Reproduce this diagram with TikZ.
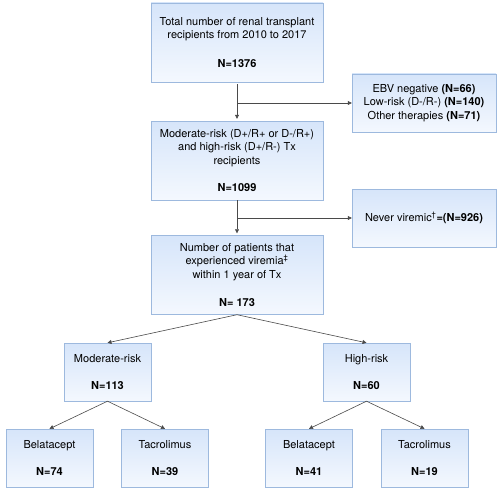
\documentclass[tikz,border=0pt]{standalone}
\usepackage{fontspec}
\setmainfont{TeX Gyre Heros}
\usetikzlibrary{arrows.meta}
\definecolor{boxtop}{HTML}{D6E5FA}
\definecolor{boxbot}{HTML}{F4F8FE}
\definecolor{boxline}{HTML}{9DB9DE}
\definecolor{arrline}{HTML}{4A4A4A}
\tikzset{
  box/.style={rectangle, draw=boxline, top color=boxtop, bottom color=boxbot,
    align=center, font=\fontsize{11}{13.5}\selectfont, inner sep=2pt},
  bigbox/.style={box, minimum width=172pt, minimum height=79pt},
  sidebox/.style={box, minimum width=144pt, minimum height=58pt},
  smallbox/.style={box, minimum width=87pt, minimum height=58pt},
  arr/.style={draw=arrline, line width=0.6pt, -{Triangle[length=4pt,width=4pt]}}
}
\begin{document}
\begin{tikzpicture}[x=1pt, y=-1pt]
    \useasboundingbox (0,0) rectangle (500,492);
    \node[bigbox] (total) at (237, 42.5) {Total number of renal transplant\\recipients from 2010 to 2017\\[15pt]\textbf{N=1376}};
    \node[sidebox] (excl) at (424, 103) {EBV negative \textbf{(N=66)}\\Low-risk (D-/R-) \textbf{(N=140)}\\Other therapies \textbf{(N=71)}};
    \node[bigbox] (risk) at (237, 160.5) {Moderate-risk (D+/R+ or D-/R+)\\and high-risk (D+/R-) Tx\\recipients\\[14pt]\textbf{N=1099}};
    \node[sidebox] (never) at (424, 218) {Never viremic\textsuperscript{\dag}\textbf{=(N=926)}};
    \node[bigbox] (viremia) at (237, 275) {Number of patients that\\experienced viremia\textsuperscript{\ddag}\\within 1 year of Tx\\[15pt]\textbf{N= 173}};
    \node[smallbox] (mod) at (107.5, 372) {Moderate-risk\\[14pt]\textbf{N=113}};
    \node[smallbox] (high) at (366.5, 372) {High-risk\\[14pt]\textbf{N=60}};
    \node[smallbox] (bel1) at (49.5, 458) {Belatacept\\[14pt]\textbf{N=74}};
    \node[smallbox] (tac1) at (165, 458) {Tacrolimus\\[14pt]\textbf{N=39}};
    \node[smallbox] (bel2) at (309, 458) {Belatacept\\[14pt]\textbf{N=41}};
    \node[smallbox] (tac2) at (424.5, 458) {Tacrolimus\\[14pt]\textbf{N=19}};
    \coordinate (j1) at (total.south |- excl.west);
    \coordinate (j2) at (risk.south |- never.west);
    \draw[arr] ([yshift=-2pt]total.south) -- ([yshift=2pt]risk.north);
    \draw[arr] (j1) -- (excl.west);
    \draw[arr] (risk.south) -- ([yshift=2pt]viremia.north);
    \draw[arr] (j2) -- (never.west);
    \draw[arr] (viremia.south) -- (mod.north);
    \draw[arr] (viremia.south) -- (high.north);
    \draw[arr] (mod.south) -- (bel1.north);
    \draw[arr] (mod.south) -- (tac1.north);
    \draw[arr] (high.south) -- (bel2.north);
    \draw[arr] (high.south) -- (tac2.north);
  \end{tikzpicture}
\end{document}
